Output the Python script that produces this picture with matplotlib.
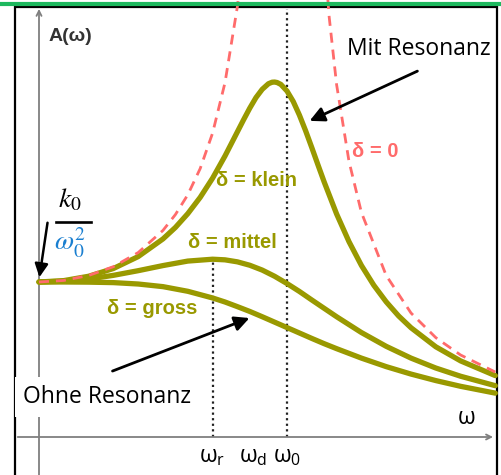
import matplotlib.pyplot as plt
from matplotlib.lines import Line2D
from matplotlib.patches import Rectangle

# normalised frequency omega/omega0 where the curves were read
w = [0, 0.1, 0.2, 0.3, 0.4, 0.5, 0.6, 0.7, 0.75, 0.8, 0.85, 0.9, 0.95, 1.0,
     1.05, 1.1, 1.15, 1.2, 1.3, 1.4, 1.5, 1.6, 1.7, 1.84]
a_mittel = [1.0, 1.005, 1.019, 1.043, 1.073, 1.106, 1.135, 1.147, 1.143, 1.130, 1.108, 1.077,
            1.037, 0.990, 0.939, 0.884, 0.830, 0.776, 0.674, 0.585, 0.509, 0.445, 0.392, 0.331]
a_gross = [1.0, 1.000, 0.999, 0.996, 0.987, 0.970, 0.940, 0.897, 0.871, 0.841, 0.810, 0.776,
           0.741, 0.706, 0.671, 0.636, 0.602, 0.570, 0.509, 0.454, 0.406, 0.364, 0.327, 0.283]

# the sharp "klein" curve was read more densely around its peak
w_klein = [0, 0.1, 0.2, 0.3, 0.4, 0.5, 0.55, 0.6, 0.65, 0.7, 0.75, 0.8, 0.825, 0.85, 0.875,
           0.9, 0.925, 0.94, 0.95, 0.96, 0.975, 1.0, 1.025, 1.05, 1.075, 1.1, 1.125, 1.15,
           1.2, 1.25, 1.3, 1.35, 1.4, 1.45, 1.5, 1.6, 1.7, 1.84]
a_klein = [1.0, 1.009, 1.037, 1.087, 1.164, 1.278, 1.352, 1.441, 1.546, 1.670, 1.813, 1.969,
           2.047, 2.122, 2.190, 2.243, 2.279, 2.289, 2.290, 2.287, 2.275, 2.232, 2.165, 2.077,
           1.976, 1.867, 1.755, 1.645, 1.439, 1.260, 1.107, 0.979, 0.872, 0.781, 0.705,
           0.582, 0.491, 0.396]

# undamped curve (delta = 0), left and right branch
w0_left = [0, 0.1, 0.2, 0.3, 0.4, 0.5, 0.55, 0.6, 0.65, 0.7, 0.75, 0.8, 0.82]
a0_left = [1.0, 1.010, 1.042, 1.099, 1.190, 1.333, 1.435, 1.563, 1.732, 1.961, 2.286, 2.778, 3.05]
w0_right = [1.14, 1.17, 1.2, 1.25, 1.3, 1.4, 1.5, 1.6, 1.7, 1.84]
a0_right = [3.34, 2.711, 2.273, 1.778, 1.449, 1.042, 0.800, 0.641, 0.529, 0.419]

w_r = 0.70    # resonance frequency (peak of "mittel")
w_d = 0.863
w_0 = 1.0
a_r = 1.147

olive = "#999900"
red = "#ff6b6b"
blue = "#1a7fd0"

fig = plt.figure(figsize=(5.01, 4.75), dpi=100)
ax = fig.add_axes([0, 0, 1, 1])
ax.set_xlim(-39 / 248, 462 / 248)
ax.set_ylim(-38 / 155, 437 / 155)
ax.axis("off")

# green line on top and black frame
fig.add_artist(Line2D([0, 1], [1 - 4 / 475] * 2, color="#1db85e", lw=3))
ax.add_patch(Rectangle((-0.097, -0.4), 1.944, 3.174, fill=False, ec="black", lw=1.6, zorder=1))

# axes with arrows
ax.annotate("", xy=(0, 2.78), xytext=(0, -0.3),
            arrowprops=dict(arrowstyle="->", color="#7f7f7f", lw=1.3, mutation_scale=9))
ax.annotate("", xy=(1.842, 0), xytext=(-0.097, 0),
            arrowprops=dict(arrowstyle="->", color="#7f7f7f", lw=1.3, mutation_scale=9))

# dotted marker lines
ax.plot([w_0, w_0], [0, 2.76], color="#222222", lw=1.6, ls=(0, (1, 1.5)), zorder=2)
ax.plot([w_r, w_r], [0, a_r], color="#222222", lw=1.6, ls=(0, (1, 1.5)), zorder=2)

# response curves
for x, a in ((w_klein, a_klein), (w, a_mittel), (w, a_gross)):
    ax.plot(x, a, color=olive, lw=3.8, solid_capstyle="round", solid_joinstyle="round", zorder=3)
ax.plot(w0_left, a0_left, color=red, lw=2.0, ls=(0, (3.6, 2.5)), zorder=4)
ax.plot(w0_right, a0_right, color=red, lw=2.0, ls=(0, (3.6, 2.5)), zorder=4)

# labels
bold = dict(family="Liberation Sans", weight="bold", ha="center", va="center")
ax.text(0.04, 2.587, "A(ω)", color="#333333", fontsize=14,
        family="Liberation Sans", weight="bold", ha="left", va="center")
ax.text(0.879, 1.658, "δ = klein", color=olive, fontsize=14.5, **bold)
ax.text(0.778, 1.258, "δ = mittel", color=olive, fontsize=14.5, **bold)
ax.text(0.456, 0.832, "δ = gross", color=olive, fontsize=14.5, **bold)
ax.text(1.355, 1.845, "δ = 0", color=red, fontsize=14.5, **bold)

reg = dict(family="Open Sans", fontsize=16.5, ha="center", va="center")
ax.text(1.532, 2.503, "Mit Resonanz", **reg)
ax.text(0.274, 0.258, "Ohne Resonanz", zorder=5,
        bbox=dict(fc="white", ec="none", pad=6), **reg)
ax.annotate("", xy=(1.081, 2.032), xytext=(1.536, 2.368), zorder=6,
            arrowprops=dict(arrowstyle="-|>", color="black", lw=2, mutation_scale=22))
ax.annotate("", xy=(0.859, 0.774), xytext=(0.286, 0.419), zorder=6,
            arrowprops=dict(arrowstyle="-|>", color="black", lw=2, mutation_scale=22))

# k0 / omega0^2 label
ax.text(0.125, 1.53, r"$k_0$", fontsize=20, math_fontfamily="stix", ha="center", va="center")
ax.plot([0.069, 0.21], [1.387, 1.387], color="black", lw=1.9)
ax.text(0.125, 1.255, r"$\omega_0^2$", fontsize=20, math_fontfamily="stix", color=blue,
        ha="center", va="center")
ax.annotate("", xy=(0, 1.013), xytext=(0.036, 1.40),
            arrowprops=dict(arrowstyle="-|>", color="black", lw=1.8, mutation_scale=20))

# omega labels
ax.text(1.726, 0.123, "ω", family="Open Sans", fontsize=16.5, ha="center", va="center")
for x, s in ((w_r, "r"), (w_d, "d"), (w_0, "0")):
    ax.text(x, -0.123, r"$\mathregular{ω_%s}$" % s, family="Open Sans", fontsize=16.5,
            ha="center", va="center")

fig.savefig("out.png", dpi=100)
